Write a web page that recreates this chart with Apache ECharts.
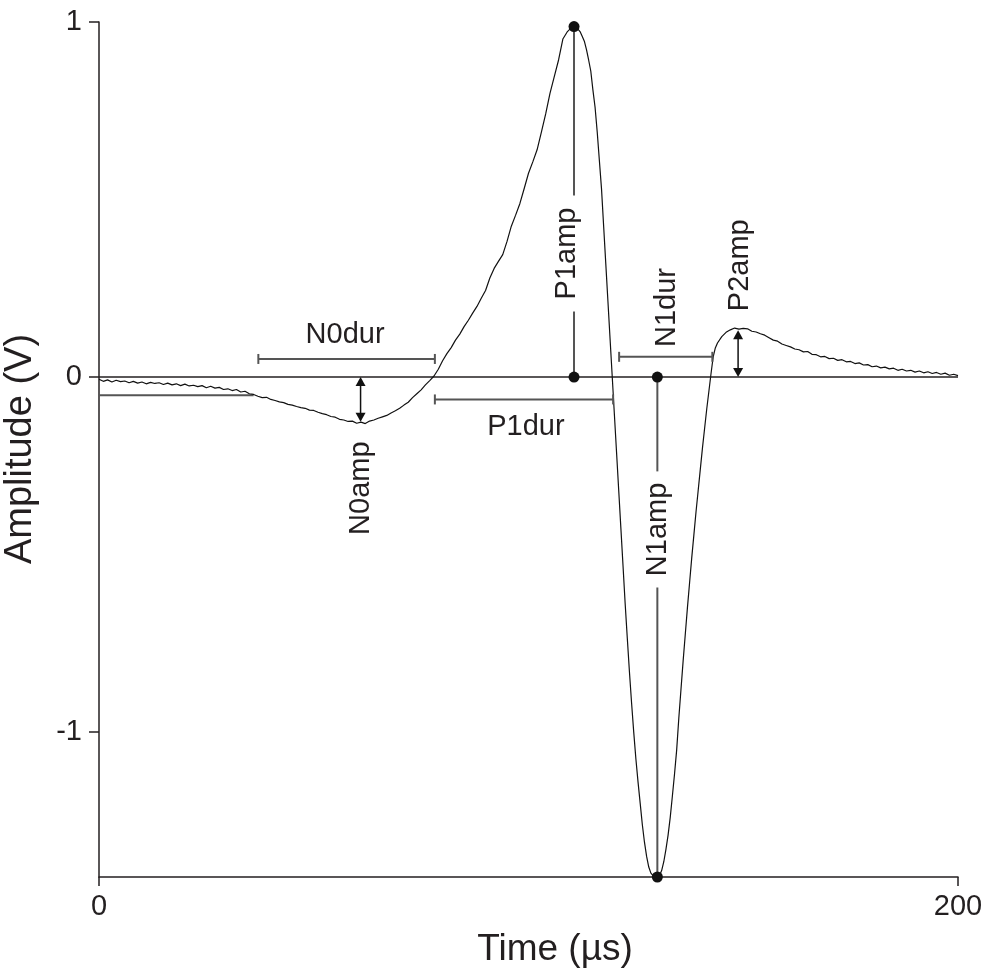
<!DOCTYPE html>
<html><head><meta charset="utf-8">
<script src="https://cdn.jsdelivr.net/npm/echarts@6/dist/echarts.min.js"></script>
<style>html,body{margin:0;padding:0;background:#fff}#c{width:991px;height:969px}</style>
</head><body><div id="c"></div>
<script>
// ---- waveform (time in µs, amplitude in V) ----
const timeUs = [
  0,1,2,3,4,5,6,7,8,9,10,11,12,13,14,15,16,17,18,19,20,21,22,23,24,25,26,27,28,29,
  30,31,32,33,34,35,36,37,38,39,40,41,42,43,44,45,46,47,48,49,50,51,52,53,54,55,56,57,58,59,
  60,61,62,63,64,65,66,67,68,69,70,71,72,73,74,75,76,77,78,79,80,81,82,83,84,85,86,87,88,89,
  90,91,92,93,94,95,96,97,98,99,100,101,102,103,104,105,106,107,108,109,110,110.6,111,111.5,112,112.5,113,113.5,114,114.5,
  115,115.5,116,116.5,117,117.5,118,118.5,119,119.5,120,120.5,121,121.5,122,122.5,123,123.5,124,124.5,
  125,125.5,126,126.5,127,127.5,128,128.5,129,129.5,130,130.5,131,131.5,132,132.5,133,133.5,134,134.5,
  135,135.5,136,136.5,137,137.5,138,138.5,139,139.5,140,140.5,141,141.5,142,142.5,143,143.5,144,
  145,146,147,148,149,150,151,152,153,154,155,156,157,158,159,160,161,162,163,164,165,166,167,168,169,
  170,171,172,173,174,175,176,177,178,179,180,181,182,183,184,185,186,187,188,189,190,191,192,193,194,
  195,196,197,198,199,200
];
const amplitudeV = [
  -0.006,-0.012,-0.008,-0.014,-0.009,-0.013,-0.011,-0.016,-0.012,-0.017,-0.014,-0.019,-0.015,-0.018,-0.016,-0.021,-0.017,-0.022,-0.019,-0.024,-0.020,-0.025,-0.023,-0.027,-0.024,-0.030,-0.026,-0.031,-0.029,-0.035,
  -0.033,-0.038,-0.035,-0.042,-0.040,-0.047,-0.049,-0.054,-0.058,-0.057,-0.063,-0.066,-0.070,-0.072,-0.077,-0.079,-0.083,-0.086,-0.088,-0.093,-0.094,-0.099,-0.103,-0.106,-0.111,-0.113,-0.119,-0.121,-0.125,-0.124,
  -0.130,-0.127,-0.131,-0.124,-0.121,-0.116,-0.112,-0.108,-0.101,-0.095,-0.088,-0.079,-0.071,-0.058,-0.047,-0.036,-0.022,-0.010,0.003,0.022,0.046,0.066,0.083,0.104,0.121,0.142,0.160,0.180,0.199,0.222,
  0.244,0.279,0.306,0.326,0.345,0.382,0.425,0.456,0.489,0.531,0.574,0.606,0.640,0.690,0.741,0.799,0.846,0.893,0.952,0.972,0.984,0.987,0.985,0.980,0.973,0.960,0.946,0.922,0.893,0.862,
  0.808,0.760,0.690,0.610,0.530,0.424,0.318,0.212,0.106,0.000,-0.106,-0.212,-0.318,-0.424,-0.530,-0.637,-0.735,-0.830,-0.918,-1.000,
  -1.075,-1.140,-1.200,-1.260,-1.310,-1.350,-1.380,-1.397,-1.404,-1.408,-1.408,-1.404,-1.390,-1.365,-1.330,-1.290,-1.240,-1.180,-1.118,-1.050,
  -0.960,-0.880,-0.800,-0.725,-0.650,-0.580,-0.510,-0.445,-0.380,-0.320,-0.260,-0.200,-0.145,-0.090,-0.040,0.010,0.057,0.082,0.096,
  0.114,0.126,0.133,0.138,0.135,0.137,0.136,0.129,0.127,0.122,0.118,0.111,0.104,0.101,0.093,0.089,0.085,0.079,0.077,0.071,0.072,0.064,0.063,0.057,0.058,
  0.052,0.053,0.047,0.049,0.043,0.044,0.038,0.040,0.034,0.035,0.029,0.031,0.026,0.028,0.023,0.025,0.019,0.022,0.017,0.019,0.014,0.017,0.012,0.015,0.010,
  0.013,0.008,0.011,0.005,0.008,0.004
];

// ---- axes ----
const xMin = 0, xMax = 200;
const yMin = -1.408, yMax = 1;
const xTickValues = [0, 200];
const yTickValues = [-1, 0, 1];
const xTitle = 'Time (µs)';
const yTitle = 'Amplitude (V)';
const zeroLineT = [0, 200];

// ---- duration brackets ----
const durNames = ['N0dur', 'P1dur', 'N1dur'];
const durStart = [37.1, 78.2, 121.1];
const durEnd = [78.2, 119.7, 142.8];
const durLevel = [0.051, -0.063, 0.057];
const durLabelT = [57.3, 99.4, 132.3];
const durLabelV = [0.118, -0.141, 0.196];
const durLabelRotate = [0, 0, 90];

// ---- double-headed amplitude arrows ----
const arrowNames = ['N0amp', 'P2amp'];
const arrowT = [60.9, 148.8];
const arrowTo = [-0.126, 0.132];
const arrowLabelT = [61.1, 149.2];
const arrowLabelV = [-0.313, 0.315];

// ---- amplitude stems with end dots ----
const stemNames = ['P1amp', 'N1amp'];
const stemT = [110.6, 130.0];
const stemTo = [0.987, -1.408];
const stemLabelT = [109.0, 130.1];
const stemLabelV = [0.348, -0.429];

// ---- pre-event baseline ----
const baselineT = [0, 36.0];
const baselineV = -0.051;

const FONT = '"Liberation Sans", Arial, Helvetica, sans-serif';
const TXT = '#231f20';
const ANNO = '#555555';
const annoFont = '29px ' + FONT;

const chart = echarts.init(document.getElementById('c'), null, {renderer: 'canvas'});

function labelEl(text, p, rotDeg) {
  return {type: 'text', x: p[0], y: p[1], rotation: rotDeg * Math.PI / 180,
    style: {text: text, fill: TXT, font: annoFont, align: 'center', verticalAlign: 'middle'}};
}

const option = {
  animation: false,
  backgroundColor: '#fff',
  grid: {left: 99, right: 33, top: 22, bottom: 92, containLabel: false},
  xAxis: {
    type: 'value', min: xMin, max: xMax, interval: 200,
    axisLine: {show: true, onZero: false, lineStyle: {color: TXT, width: 1.5}},
    axisTick: {show: true, inside: false, length: 9, lineStyle: {color: TXT, width: 1.5}, customValues: xTickValues},
    axisLabel: {customValues: xTickValues, fontSize: 29, fontFamily: FONT, color: TXT, margin: 15},
    splitLine: {show: false}
  },
  yAxis: {
    type: 'value', min: yMin, max: yMax,
    axisLine: {show: true, onZero: false, lineStyle: {color: TXT, width: 1.5}},
    axisTick: {show: true, inside: false, length: 10, lineStyle: {color: TXT, width: 1.5}, customValues: yTickValues},
    axisLabel: {customValues: yTickValues, fontSize: 29, fontFamily: FONT, color: TXT, margin: 17},
    splitLine: {show: false}
  },
  graphic: [
    {type: 'text', x: 555, y: 950, style: {text: xTitle, fill: TXT, font: '37px ' + FONT, align: 'center', verticalAlign: 'middle'}},
    {type: 'text', x: 21, y: 449, rotation: Math.PI / 2, style: {text: yTitle, fill: TXT, font: '38px ' + FONT, align: 'center', verticalAlign: 'middle'}}
  ],
  series: [
    {
      type: 'line', name: 'zero', data: zeroLineT.map(t => [t, 0]), symbol: 'none',
      lineStyle: {color: TXT, width: 1.5}, z: 2, silent: true
    },
    {
      type: 'line', name: 'baseline', data: baselineT.map(t => [t, baselineV]), symbol: 'none',
      lineStyle: {color: ANNO, width: 2}, z: 2, silent: true
    },
    {
      type: 'line', name: 'waveform', data: timeUs.map((t, i) => [t, amplitudeV[i]]), symbol: 'none',
      lineStyle: {color: '#111', width: 1.2}, z: 3, silent: true
    },
    {
      type: 'custom', name: 'durations', clip: false, z: 4, silent: true,
      data: durNames.map((n, i) => [durStart[i], durLevel[i]]),
      renderItem: function (params, api) {
        const i = params.dataIndex;
        const a = api.coord([durStart[i], durLevel[i]]);
        const b = api.coord([durEnd[i], durLevel[i]]);
        const lp = api.coord([durLabelT[i], durLabelV[i]]);
        const c = 5;
        const st = {stroke: ANNO, lineWidth: 2};
        return {type: 'group', children: [
          {type: 'line', shape: {x1: a[0], y1: a[1], x2: b[0], y2: b[1]}, style: st},
          {type: 'line', shape: {x1: a[0], y1: a[1] - c, x2: a[0], y2: a[1] + c}, style: st},
          {type: 'line', shape: {x1: b[0], y1: b[1] - c, x2: b[0], y2: b[1] + c}, style: st},
          labelEl(durNames[i], lp, durLabelRotate[i])
        ]};
      }
    },
    {
      type: 'custom', name: 'arrows', clip: false, z: 4, silent: true,
      data: arrowNames.map((n, i) => [arrowT[i], arrowTo[i]]),
      renderItem: function (params, api) {
        const i = params.dataIndex;
        const p0 = api.coord([arrowT[i], 0]);
        const p1 = api.coord([arrowT[i], arrowTo[i]]);
        const lp = api.coord([arrowLabelT[i], arrowLabelV[i]]);
        const top = Math.min(p0[1], p1[1]), bot = Math.max(p0[1], p1[1]);
        const x = p0[0], h = 9, w = 5;
        return {type: 'group', children: [
          {type: 'line', shape: {x1: x, y1: top + 4, x2: x, y2: bot - 4}, style: {stroke: '#111', lineWidth: 1.5}},
          {type: 'polygon', shape: {points: [[x, top], [x - w, top + h], [x + w, top + h]]}, style: {fill: '#111'}},
          {type: 'polygon', shape: {points: [[x, bot], [x - w, bot - h], [x + w, bot - h]]}, style: {fill: '#111'}},
          labelEl(arrowNames[i], lp, 90)
        ]};
      }
    },
    {
      type: 'custom', name: 'stems', clip: false, z: 5, silent: true,
      data: stemNames.map((n, i) => [stemT[i], stemTo[i]]),
      renderItem: function (params, api) {
        const i = params.dataIndex;
        const p0 = api.coord([stemT[i], 0]);
        const p1 = api.coord([stemT[i], stemTo[i]]);
        const lp = api.coord([stemLabelT[i], stemLabelV[i]]);
        const top = Math.min(p0[1], p1[1]), bot = Math.max(p0[1], p1[1]);
        const x = p0[0], gap = 58;
        const st = {stroke: ANNO, lineWidth: 2};
        return {type: 'group', children: [
          {type: 'line', shape: {x1: x, y1: top, x2: x, y2: lp[1] - gap}, style: st},
          {type: 'line', shape: {x1: x, y1: lp[1] + gap, x2: x, y2: bot}, style: st},
          {type: 'circle', shape: {cx: x, cy: p0[1], r: 5.5}, style: {fill: '#111'}},
          {type: 'circle', shape: {cx: x, cy: p1[1], r: 5.5}, style: {fill: '#111'}},
          labelEl(stemNames[i], lp, 90)
        ]};
      }
    }
  ]
};
chart.setOption(option);
</script>
</body></html>
